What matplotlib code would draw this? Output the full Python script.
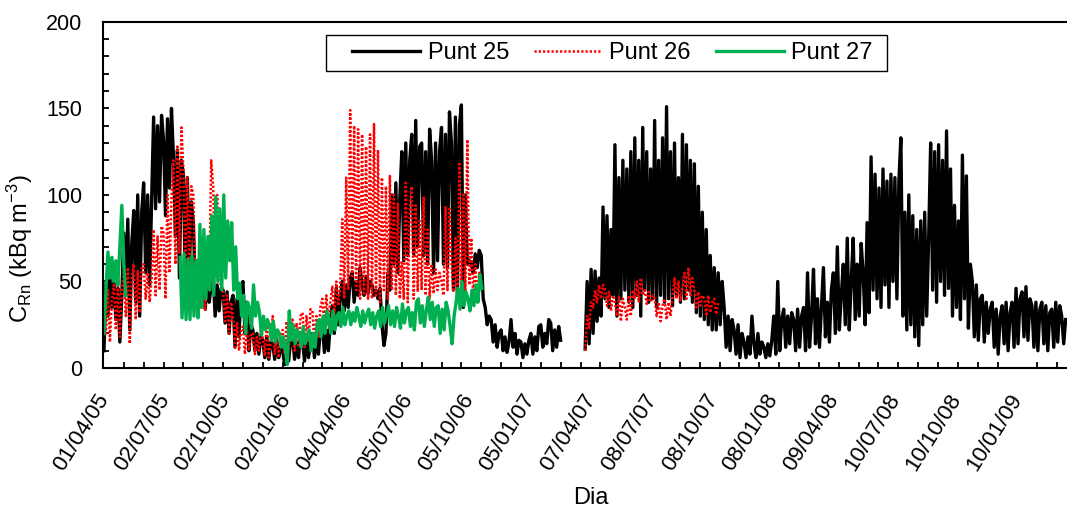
import numpy as np
import matplotlib
matplotlib.use("Agg")
import matplotlib.pyplot as plt
import matplotlib.dates as mdates
from matplotlib.patches import Rectangle
from matplotlib.ticker import FixedLocator, MultipleLocator, NullFormatter
from datetime import datetime

plt.rcParams['font.family'] = ['Liberation Sans', 'DejaVu Sans']
plt.rcParams['mathtext.default'] = 'regular'

START = datetime(2005, 4, 1)
STEP_DAYS = 3  # sampling interval of the listed series (days)

date_labels = ["01/04/05", "02/07/05", "02/10/05", "02/01/06", "04/04/06",
               "05/07/06", "05/10/06", "05/01/07", "07/04/07", "08/07/07",
               "08/10/07", "08/01/08", "09/04/08", "10/07/08", "10/10/08",
               "10/01/09"]

# Punt 25 (kBq m-3): first campaign from day 0, second from day 727
p25_start_a = 0
p25_a = [10, 48, 30, 52, 35, 50, 28, 46, 15, 42, 78, 42, 86, 22, 72,
         91, 38, 100, 30, 90, 107, 55, 100, 48, 96, 145, 92, 140, 96, 146,
         132, 88, 144, 104, 150, 122, 76, 126, 52, 120, 112, 50, 110, 56, 96,
         84, 46, 62, 36, 52, 50, 34, 54, 38, 48, 53, 30, 48, 33, 46,
         45, 26, 44, 20, 38, 42, 12, 40, 18, 46, 50, 20, 38, 10, 25,
         22, 10, 20, 8, 18, 16, 6, 18, 5, 15, 14, 5, 16, 6, 12,
         10, 2, 14, 4, 16, 18, 5, 15, 6, 20, 16, 4, 18, 6, 15,
         20, 6, 18, 8, 22, 25, 9, 22, 10, 26, 36, 20, 46, 25, 40,
         50, 33, 48, 35, 52, 55, 38, 50, 42, 58, 48, 42, 53, 43, 50,
         48, 42, 45, 40, 46, 25, 13, 20, 55, 45, 100, 60, 107, 55, 98,
         125, 62, 130, 65, 120, 135, 66, 143, 70, 128, 130, 65, 125, 60, 138,
         120, 55, 130, 62, 125, 139, 60, 135, 58, 148, 130, 45, 145, 40, 140,
         152, 35, 100, 60, 62, 60, 55, 66, 58, 68, 65, 40, 35, 25, 30,
         28, 15, 25, 12, 20, 22, 10, 18, 9, 15, 28, 12, 20, 8, 16,
         15, 6, 14, 8, 16, 20, 8, 18, 10, 24, 25, 12, 20, 14, 28,
         26, 10, 22, 12, 24, 16]
p25_start_b = 727
p25_b = [11, 50, 14, 57, 20, 56, 27, 52, 30, 93, 40, 88, 35, 80, 42,
         129, 30, 110, 40, 120, 45, 115, 38, 125, 35, 133, 42, 120, 30, 139,
         45, 125, 38, 115, 40, 143, 35, 120, 42, 133, 38, 151, 40, 125, 36,
         130, 42, 110, 38, 135, 40, 129, 45, 120, 38, 118, 32, 105, 30, 90,
         28, 80, 25, 65, 22, 58, 22, 55, 25, 50, 35, 12, 30, 10, 28,
         22, 8, 25, 6, 20, 15, 6, 18, 8, 30, 14, 6, 20, 8, 15,
         12, 6, 14, 7, 16, 30, 8, 50, 10, 28, 34, 12, 30, 14, 32,
         28, 10, 34, 12, 30, 35, 10, 55, 12, 30, 57, 14, 40, 12, 35,
         58, 18, 38, 15, 45, 55, 20, 70, 22, 42, 60, 25, 75, 22, 50,
         75, 28, 60, 30, 72, 55, 25, 84, 32, 122, 45, 112, 40, 104, 35,
         115, 48, 108, 35, 112, 50, 110, 40, 108, 133, 30, 90, 22, 100, 25,
         88, 18, 80, 13, 85, 25, 90, 30, 75, 130, 45, 125, 38, 129, 50,
         120, 42, 137, 46, 115, 30, 94, 35, 85, 28, 123, 40, 111, 23, 60,
         50, 18, 48, 16, 40, 42, 15, 38, 20, 34, 38, 12, 34, 8, 30,
         36, 14, 38, 10, 32, 38, 12, 46, 14, 40, 44, 18, 47, 16, 40,
         36, 12, 38, 10, 34, 38, 14, 36, 10, 32, 34, 12, 38, 15, 36,
         30, 14, 28]

# Punt 26 (kBq m-3)
p26_start_a = 0
p26_a = [50, 20, 45, 15, 40, 48, 22, 50, 18, 45, 55, 30, 58, 14, 52,
         60, 28, 56, 32, 58, 60, 40, 55, 38, 52, 80, 42, 76, 45, 82,
         78, 40, 100, 55, 98, 120, 60, 128, 66, 139, 115, 58, 110, 55, 105,
         100, 50, 62, 34, 48, 46, 33, 58, 45, 120, 105, 52, 100, 50, 48,
         45, 27, 42, 20, 38, 30, 12, 26, 10, 22, 24, 8, 22, 10, 20,
         20, 8, 18, 10, 22, 18, 7, 27, 6, 16, 30, 8, 20, 6, 18,
         22, 8, 27, 10, 24, 28, 10, 26, 12, 30, 32, 12, 30, 15, 34,
         33, 14, 30, 18, 35, 40, 24, 42, 25, 38, 47, 30, 50, 36, 48,
         86, 40, 110, 45, 149, 52, 140, 45, 138, 40, 135, 42, 128, 40, 135,
         40, 141, 42, 126, 38, 110, 45, 105, 40, 111, 45, 100, 42, 95, 40,
         61, 40, 107, 38, 92, 105, 40, 94, 44, 85, 45, 99, 42, 80, 40,
         60, 43, 57, 45, 55, 50, 42, 93, 45, 92, 61, 44, 75, 40, 119,
         45, 100, 42, 132, 48, 75, 40, 60, 38, 55, 50]
p26_start_b = 727
p26_b = [10, 30, 23, 38, 35, 45, 38, 48, 40, 48, 45, 36, 44, 33, 42,
         38, 30, 41, 27, 40, 35, 28, 42, 30, 45, 40, 50, 38, 52, 42,
         45, 37, 44, 38, 42, 40, 30, 38, 27, 36, 40, 28, 38, 30, 42,
         52, 40, 50, 39, 46, 55, 40, 58, 42, 52, 45, 35, 44, 36, 42,
         40, 30, 42, 32, 38, 40, 31, 38]

# Punt 27 (kBq m-3)
p27_start_a = 0
p27_a = [20, 45, 67, 52, 64, 50, 62, 48, 70, 94, 60, 42]
p27_start_b = 115
p27_b = [64, 29, 66, 28, 63, 28, 65, 30, 62, 29, 83, 35, 80, 40, 76,
         45, 88, 42, 99, 50, 92, 45, 100, 52, 85, 62, 84, 45, 70, 40,
         49, 30, 42, 20, 38, 35, 23, 48, 30, 38, 32, 19, 30, 22, 28,
         25, 16, 27, 15, 22, 20, 12, 18, 11, 2, 33, 16, 25, 14, 22,
         20, 12, 24, 14, 18, 22, 10, 20, 12, 25, 28, 18, 30, 20, 33,
         28, 20, 33, 22, 30, 32, 24, 35, 25, 30, 33, 25, 32, 27, 35,
         30, 24, 33, 26, 31, 34, 25, 32, 23, 30, 33, 24, 35, 26, 31,
         36, 25, 33, 24, 35, 30, 23, 37, 26, 33, 35, 24, 32, 22, 38,
         40, 26, 36, 24, 33, 41, 28, 38, 24, 35, 36, 20, 34, 22, 38,
         33, 24, 14, 30, 38, 46, 34, 50, 36, 44, 40, 33, 45, 36, 48,
         38, 54, 46]


def build_series(blocks):
    """Join measurement campaigns into one line, broken by NaN between them."""
    x0 = mdates.date2num(START)
    xs, ys = [], []
    for start, vals in blocks:
        days = start + STEP_DAYS * np.arange(len(vals))
        xs.append(x0 + days)
        ys.append(np.asarray(vals, dtype=float))
        xs.append([np.nan])
        ys.append([np.nan])
    return np.concatenate(xs), np.concatenate(ys)


x25, y25 = build_series([(p25_start_a, p25_a), (p25_start_b, p25_b)])
x26, y26 = build_series([(p26_start_a, p26_a), (p26_start_b, p26_b)])
x27, y27 = build_series([(p27_start_a, p27_a), (p27_start_b, p27_b)])

fig = plt.figure(figsize=(10.67, 5.09), dpi=100)
ax = fig.add_axes([0.0965, 0.277, 0.9035, 0.680])

ax.plot(x25, y25, color='black', lw=2.4, label='Punt 25')
ax.plot(x26, y26, color='#FF0000', lw=1.8, linestyle=(0, (0.9, 0.8)), label='Punt 26')
ax.plot(x27, y27, color='#00B050', lw=2.4, label='Punt 27')

x0 = mdates.date2num(START)
ax.set_xlim(x0 - 1.5, x0 + 1455)
ax.set_ylim(0, 200)

label_pos = [mdates.date2num(datetime.strptime(s, "%d/%m/%y")) for s in date_labels]
ax.set_xticks(label_pos)
ax.set_xticklabels(date_labels, rotation=58, ha='right', va='center',
                   rotation_mode='anchor', fontsize=16)
ax.xaxis.set_minor_locator(FixedLocator([x0 + 30 * k for k in range(49)]))
ax.xaxis.set_minor_formatter(NullFormatter())
ax.tick_params(axis='x', which='major', length=0, pad=20)
ax.tick_params(axis='x', which='minor', direction='in', length=4.5, width=1.3)

ax.yaxis.set_major_locator(MultipleLocator(50))
ax.yaxis.set_minor_locator(MultipleLocator(10))
ax.tick_params(axis='y', which='both', direction='in', length=4.5, width=1.3,
               labelsize=15.5, pad=15)

for side in ('left', 'bottom', 'top'):
    ax.spines[side].set_linewidth(1.5)
ax.spines['right'].set_visible(False)

ax.set_ylabel("C$_{Rn}$ (kBq m$^{-3}$)", fontsize=17, va='center')
ax.yaxis.set_label_coords(-0.086, 0.345)
ax.set_xlabel("Dia", fontsize=17, va='top')
ax.xaxis.set_label_coords(0.506, -0.345)

# legend frame drawn separately so its padding can be set freely
frame = Rectangle((0.2313, 0.8584), 0.582, 0.104, transform=ax.transAxes,
                  facecolor='white', edgecolor='black', lw=1.0, zorder=5)
ax.add_patch(frame)
leg = ax.legend(loc='center left', bbox_to_anchor=(0.2583, 0.9104), ncol=3,
                fontsize=17, frameon=False, handlelength=2.9,
                handletextpad=0.3, columnspacing=1.05, borderpad=0,
                borderaxespad=0)
leg.set_zorder(6)

fig.savefig("out.png", dpi=100)
